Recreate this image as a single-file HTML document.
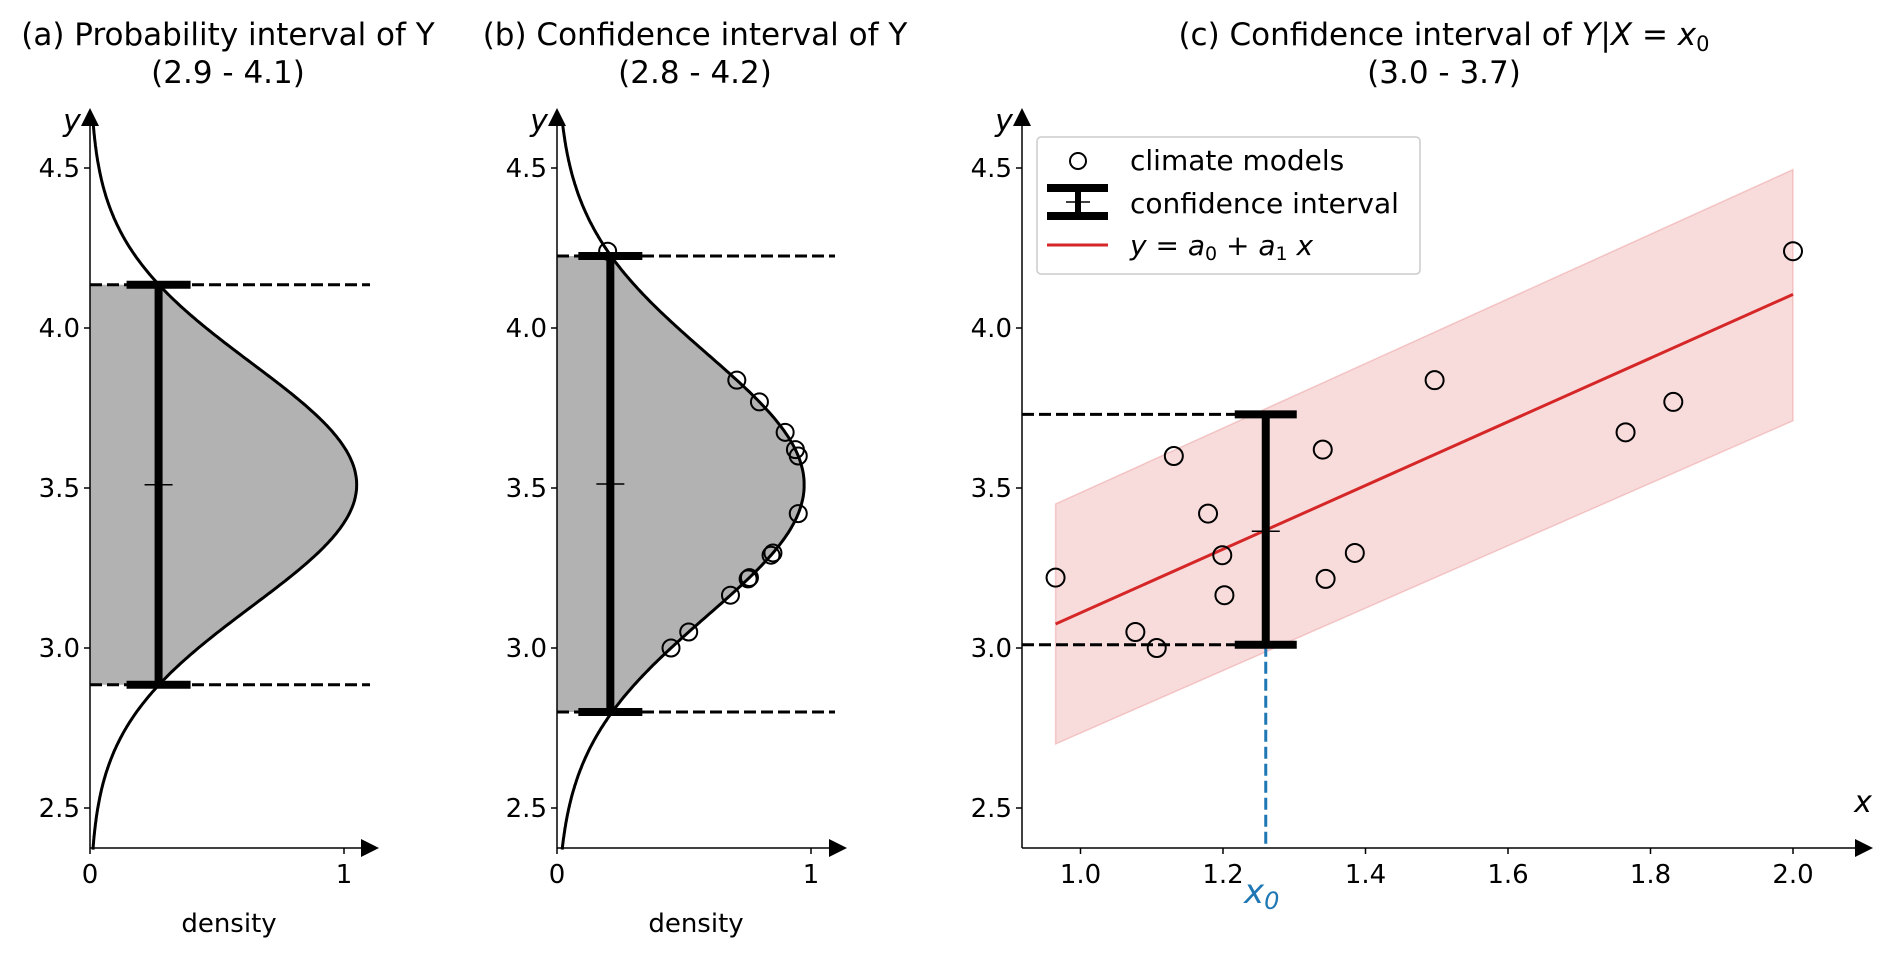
<!DOCTYPE html>
<html><head><meta charset="utf-8"><style>
html,body{margin:0;padding:0;background:#fff;}
svg{display:block;font-family:"DejaVu Sans","Liberation Sans",sans-serif;}
</style></head><body>
<svg id="fig" width="1892" height="957" viewBox="0 0 1892 957" xmlns="http://www.w3.org/2000/svg">
<g id="pa"></g>
<g id="pb"></g>
<g id="pc"></g>
</svg>
<script>
// data
const modelX = [0.965,1.077,1.107,1.131,1.179,1.199,1.202,1.340,1.344,1.385,1.497,1.765,1.832,2.0];
const modelY = [3.22,3.05,3.00,3.60,3.42,3.29,3.165,3.62,3.216,3.297,3.837,3.674,3.769,4.24];
const yTicks = [2.5,3.0,3.5,4.0,4.5];
const yTickLabels = ["2.5","3.0","3.5","4.0","4.5"];
const densTicks = [0,1];
const xTicksC = [1.0,1.2,1.4,1.6,1.8,2.0];
const xTickLabelsC = ["1.0","1.2","1.4","1.6","1.8","2.0"];
const distA = [3.51, 0.38];      // mean, sigma
const intervalA = [2.885, 4.135];
const distB = [3.51, 0.41];
const intervalB = [2.80, 4.225];
const regLine = [3.075, 4.105];  // y at x=0.965, x=2.0
const regX = [0.965, 2.0];
const bandLo = [2.70, 3.71];
const bandHi = [3.45, 4.495];
const x0 = 1.26;
const intervalC = [3.01, 3.73];
const centerC = 3.365;

const NS='http://www.w3.org/2000/svg';
function mk(parent,tag,attrs,text){const e=document.createElementNS(NS,tag);for(const k in attrs)e.setAttribute(k,attrs[k]);if(text!==undefined)e.textContent=text;parent.appendChild(e);return e;}
const Y=v=>168+(4.5-v)*320;
const yBot=848, yTop=108;
function pdf(v,m,s){return Math.exp(-0.5*((v-m)/s)**2)/(s*Math.sqrt(2*Math.PI));}

function densPanel(g,ax,tx,title1,title2,dist,interval,ebDens,points,xEnd,dashEnd){
  const X=d=>ax+d*254;
  let t=mk(g,'text',{x:tx,y:45,'font-size':31,'text-anchor':'middle'},title1);
  
  
  let t2=mk(g,'text',{x:tx,y:83,'font-size':31,'text-anchor':'middle'},title2);
  
  
  let d='M'+ax+' '+Y(interval[1]);
  for(let v=interval[1];v>=interval[0]-1e-9;v-=0.005){d+=' L'+X(pdf(v,dist[0],dist[1])).toFixed(1)+' '+Y(v).toFixed(1);}
  d+=' L'+X(pdf(interval[0],dist[0],dist[1])).toFixed(1)+' '+Y(interval[0])+' L'+ax+' '+Y(interval[0])+'Z';
  let f=mk(g,'path',{d:d,fill:'#b2b2b2'});
  
  
  let c='';
  for(let v=2.37;v<=4.64;v+=0.005){c+=(c?' L':'M')+X(pdf(v,dist[0],dist[1])).toFixed(1)+' '+Y(v).toFixed(1);}
  let cp=mk(g,'path',{d:c,fill:'none',stroke:'#000','stroke-width':3});
  
  
  const ex=X(ebDens);
  interval.forEach(v=>{let l=mk(g,'line',{x1:ax,x2:dashEnd,y1:Y(v),y2:Y(v),stroke:'#000','stroke-width':3,'stroke-dasharray':'12,5'});
    
    });
  let eb=mk(g,'g',{});
  
  
  mk(eb,'line',{x1:ex,x2:ex,y1:Y(interval[0]),y2:Y(interval[1]),stroke:'#000','stroke-width':8});
  interval.forEach(v=>mk(eb,'line',{x1:ex-32,x2:ex+32,y1:Y(v),y2:Y(v),stroke:'#000','stroke-width':8}));
  const mid=(interval[0]+interval[1])/2;
  mk(eb,'line',{x1:ex-14,x2:ex+14,y1:Y(mid),y2:Y(mid),stroke:'#000','stroke-width':1.5});
  points.forEach(v=>{let p=mk(g,'circle',{cx:X(pdf(v,dist[0],dist[1])),cy:Y(v),r:8.5,fill:'none',stroke:'#000','stroke-width':2});
    
    });
  axes(g,ax,xEnd);
  densTicks.forEach(v=>{mk(g,'line',{x1:X(v),x2:X(v),y1:yBot,y2:yBot+6,stroke:'#000','stroke-width':1.5});
    let tl=mk(g,'text',{x:X(v),y:yBot+35,'font-size':26,'text-anchor':'middle'},String(v));
    
    });
  let xl=mk(g,'text',{x:ax+139,y:932,'font-size':26,'text-anchor':'middle'},'density');
  
  
}
function axes(g,ax,xEnd){
  let a=mk(g,'g',{});
  
  
  mk(a,'line',{x1:ax,x2:ax,y1:yBot,y2:yTop+14,stroke:'#000','stroke-width':1.5});
  mk(a,'line',{x1:ax,x2:xEnd-14,y1:yBot,y2:yBot,stroke:'#000','stroke-width':1.5});
  mk(a,'polygon',{points:`${ax-9},${yTop+18} ${ax+9},${yTop+18} ${ax},${yTop}`,fill:'#000'});
  mk(a,'polygon',{points:`${xEnd-18},${yBot-9} ${xEnd-18},${yBot+9} ${xEnd},${yBot}`,fill:'#000'});
  let yl=mk(g,'text',{x:ax-18,y:131,'font-size':30,'font-style':'italic','text-anchor':'middle'},'y');
  
  
  yTicks.forEach((v,i)=>{mk(g,'line',{x1:ax-6,x2:ax,y1:Y(v),y2:Y(v),stroke:'#000','stroke-width':1.5});
    let tl=mk(g,'text',{x:ax-10,y:Y(v)+9,'font-size':26,'text-anchor':'end'},yTickLabels[i]);
    
    });
}
densPanel(document.getElementById('pa'),90,228,'(a) Probability interval of Y','(2.9 - 4.1)',distA,intervalA,0.27,[],379,370);
densPanel(document.getElementById('pb'),557,695,'(b) Confidence interval of Y','(2.8 - 4.2)',distB,intervalB,0.21,modelY,847,835);

(function(){
  const g=document.getElementById('pc');
  const ax=1022, xEnd=1873;
  const X=v=>1080.5+(v-1)*712.5;
  let t=mk(g,'text',{x:1444,y:45,'font-size':31,'text-anchor':'middle'});
  
  
  t.innerHTML='(c) Confidence interval of <tspan font-style="italic">Y</tspan>|<tspan font-style="italic">X</tspan> = <tspan font-style="italic">x</tspan><tspan font-size="21" dy="6">0</tspan>';
  let t2=mk(g,'text',{x:1444,y:83,'font-size':31,'text-anchor':'middle'},'(3.0 - 3.7)');
  
  
  let band=mk(g,'polygon',{points:`${X(regX[0])},${Y(bandLo[0])} ${X(regX[1])},${Y(bandLo[1])} ${X(regX[1])},${Y(bandHi[1])} ${X(regX[0])},${Y(bandHi[0])}`,fill:'rgba(214,39,40,0.16)',stroke:'rgba(214,39,40,0.2)','stroke-width':1.5});
  
  
  let rl=mk(g,'line',{x1:X(regX[0]),y1:Y(regLine[0]),x2:X(regX[1]),y2:Y(regLine[1]),stroke:'#d62728','stroke-width':3});
  
  
  const ex=X(x0);
  intervalC.forEach(v=>{let l=mk(g,'line',{x1:ax,x2:ex+30,y1:Y(v),y2:Y(v),stroke:'#000','stroke-width':3,'stroke-dasharray':'12,5'});
    
    });
  let bl=mk(g,'line',{x1:ex,x2:ex,y1:Y(intervalC[0]),y2:yBot,stroke:'#1f77b4','stroke-width':3,'stroke-dasharray':'12,5'});
  
  
  let eb=mk(g,'g',{});
  
  
  mk(eb,'line',{x1:ex,x2:ex,y1:Y(intervalC[0]),y2:Y(intervalC[1]),stroke:'#000','stroke-width':8});
  intervalC.forEach(v=>mk(eb,'line',{x1:ex-31,x2:ex+31,y1:Y(v),y2:Y(v),stroke:'#000','stroke-width':8}));
  mk(eb,'line',{x1:ex-14,x2:ex+14,y1:Y(centerC),y2:Y(centerC),stroke:'#000','stroke-width':1.5});
  modelX.forEach((x,i)=>{let p=mk(g,'circle',{cx:X(x),cy:Y(modelY[i]),r:9,fill:'none',stroke:'#000','stroke-width':2});
    
    });
  axes(g,ax,xEnd);
  xTicksC.forEach((v,i)=>{mk(g,'line',{x1:X(v),x2:X(v),y1:yBot,y2:yBot+6,stroke:'#000','stroke-width':1.5});
    let tl=mk(g,'text',{x:X(v),y:yBot+35,'font-size':26,'text-anchor':'middle'},xTickLabelsC[i]);
    
    });
  let xl=mk(g,'text',{x:1863,y:812,'font-size':30,'font-style':'italic','text-anchor':'middle'},'x');
  
  
  let x0l=mk(g,'text',{x:ex-4,y:903,'font-size':34,'font-style':'italic',fill:'#1f77b4','text-anchor':'middle'});
  x0l.innerHTML='x<tspan font-size="24" dy="6">0</tspan>';
  
  
  let lg=mk(g,'g',{});
  
  
  mk(lg,'rect',{x:1037,y:137,width:383,height:137,rx:4,fill:'rgba(255,255,255,0.8)',stroke:'#ccc','stroke-width':1.5});
  mk(lg,'circle',{cx:1078,cy:161,r:8,fill:'none',stroke:'#000','stroke-width':2});
  mk(lg,'line',{x1:1047,x2:1108,y1:188,y2:188,stroke:'#000','stroke-width':8});
  mk(lg,'line',{x1:1047,x2:1108,y1:216,y2:216,stroke:'#000','stroke-width':8});
  mk(lg,'line',{x1:1078,x2:1078,y1:188,y2:216,stroke:'#000','stroke-width':6});
  mk(lg,'line',{x1:1066,x2:1090,y1:202,y2:202,stroke:'#000','stroke-width':1.5});
  mk(lg,'line',{x1:1047,x2:1108,y1:245,y2:245,stroke:'#d62728','stroke-width':3});
  let e1=mk(lg,'text',{x:1130,y:170,'font-size':28},'climate models');
  
  
  let e2=mk(lg,'text',{x:1130,y:213,'font-size':28},'confidence interval');
  
  
  let e3=mk(lg,'text',{x:1130,y:255,'font-size':28});
  e3.innerHTML='<tspan font-style="italic">y</tspan> = <tspan font-style="italic">a</tspan><tspan font-size="19" dy="5">0</tspan><tspan dy="-5"> + </tspan><tspan font-style="italic">a</tspan><tspan font-size="19" dy="5">1</tspan><tspan dy="-5" font-style="italic"> x</tspan>';
  
  
})();
</script>
</body></html>
